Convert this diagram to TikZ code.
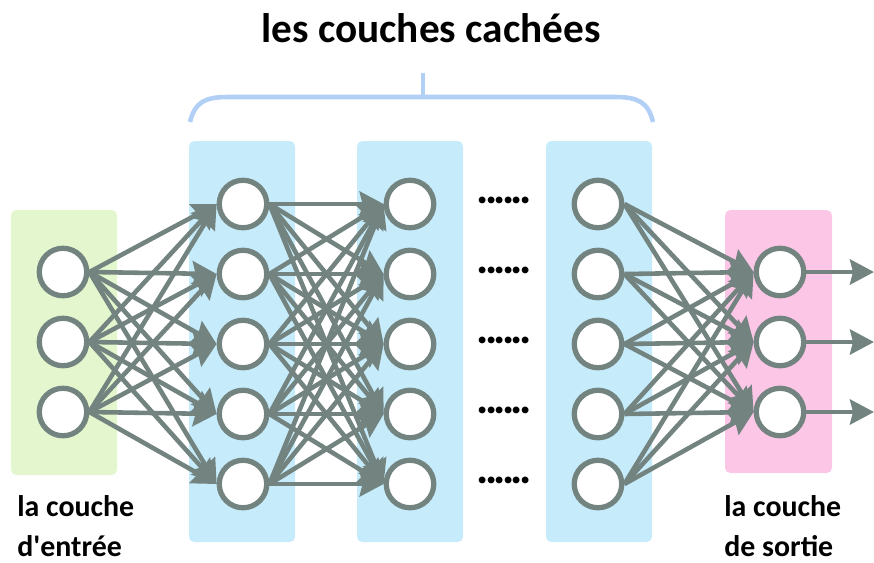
\documentclass[tikz,border=0pt]{standalone}
\usepackage{fontspec}
\setmainfont{Carlito}
\usetikzlibrary{arrows.meta}

\definecolor{gris}{HTML}{738480}
\definecolor{bleucouche}{HTML}{C6EBFB}
\definecolor{vertcouche}{HTML}{E3F6CD}
\definecolor{rosecouche}{HTML}{FCC7E7}
\definecolor{accolade}{HTML}{B2D0F6}

\pgfdeclarelayer{fond}
\pgfdeclarelayer{liens}
\pgfsetlayers{fond,liens,main}

\newcommand{\pointilles}{.\kern-2.1pt.\kern-2.1pt.\kern-2.1pt.\kern-2.1pt.\kern-2.1pt.}

\begin{document}
\begin{tikzpicture}[
    x=0.02cm, y=-0.02cm,
    neurone/.style={circle, draw=gris, line width=3pt, fill=white, minimum size=0.95cm, inner sep=0pt},
    fleche/.style={draw=gris, line width=2.6pt, -{Triangle[length=0.48cm, width=0.5cm, inset=0.06cm]}},
    couche/.style={rounded corners=3pt},
    etiquette/.style={font=\fontsize{17}{22.7}\selectfont\bfseries, align=left, inner sep=0pt, anchor=north west},
    points/.style={font=\fontsize{26}{28}\selectfont\bfseries, inner sep=0pt}
]

\useasboundingbox (0,0) rectangle (874,562);

% Titre et accolade
\node[font=\fontsize{23.5}{28}\selectfont\bfseries, anchor=base] (titre) at (431,42) {les couches cachées};
\draw[accolade, line width=2.6pt] (423,73) -- (423,97);
\draw[accolade, line width=2.6pt] (190,122) .. controls (195,102) and (205,97) .. (228,97)
    -- (615,97) .. controls (638,97) and (648,102) .. (653,122);

% Neurones
\foreach \k/\y in {1/272, 2/342, 3/412} {
    \node[neurone] (e\k) at (63,\y) {};
    \node[neurone] (s\k) at (780,\y) {};
    \coordinate (f\k) at (874,\y);
}
\foreach \k in {1,...,5} {
    \node[neurone] (a\k) at (243,134+70*\k) {};
    \node[neurone] (b\k) at (410,134+70*\k) {};
    \node[neurone] (c\k) at (598,134+70*\k) {};
    \node[points] (p\k) at (504,130+70*\k) {\pointilles};
}

% Fonds des couches
\begin{pgfonlayer}{fond}
\fill[vertcouche, couche] (11,210) rectangle (117,475);
\fill[bleucouche, couche] (189,141) rectangle (295,542);
\fill[bleucouche, couche] (357,141) rectangle (463,542);
\fill[bleucouche, couche] (546,141) rectangle (652,542);
\fill[rosecouche, couche] (725,210) rectangle (832,473);
\end{pgfonlayer}

% Connexions
\begin{pgfonlayer}{liens}
\foreach \j in {1,...,5} {
    \foreach \i in {1,2,3} {
        \draw[fleche] (e\i.east) -- (a\j.west);
        \draw[fleche] (c\j.east) -- (s\i.west);
    }
    \foreach \i in {1,...,5}
        \draw[fleche] (a\i.east) -- (b\j.west);
}
\foreach \k in {1,2,3}
    \draw[fleche] (s\k.east) -- (f\k);
\end{pgfonlayer}

% Etiquettes
\node[etiquette] (entree) at (17,495) {la couche\\d\textquotesingle entrée};
\node[etiquette] (sortie) at (724,495) {la couche\\de sortie};

\end{tikzpicture}
\end{document}
